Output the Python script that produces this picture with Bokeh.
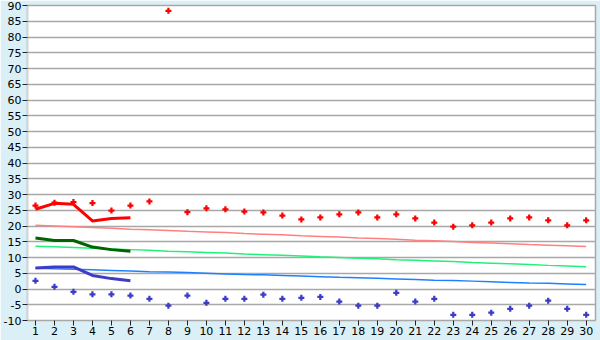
from bokeh.plotting import figure
from bokeh.models import FixedTicker, Range1d
from bokeh.embed import file_html
from bokeh.resources import INLINE

days = list(range(1, 31))

max_temp = [26.5, 27.4, 27.6, 27.3, 24.9, 26.5, 27.8, 88.3, 24.4, 25.6,
            25.3, 24.6, 24.3, 23.3, 22.1, 22.7, 23.7, 24.3, 22.7, 23.7,
            22.4, 21.1, 19.8, 20.2, 21.1, 22.4, 22.7, 21.8, 20.2, 21.8]
min_temp = [2.6, 0.7, -0.9, -1.7, -1.7, -2.1, -3.1, -5.3, -2.1, -4.4,
            -3.1, -3.1, -1.8, -3.1, -2.8, -2.5, -4.0, -5.3, -5.3, -1.2,
            -4.0, -3.1, -8.2, -8.2, -7.5, -6.3, -5.3, -3.7, -6.3, -8.2]

normal_max = [20.2, 20.0, 19.8, 19.5, 19.3, 19.0, 18.8, 18.6, 18.3, 18.1,
              17.9, 17.6, 17.4, 17.2, 16.9, 16.7, 16.5, 16.2, 16.0, 15.8,
              15.5, 15.3, 15.1, 14.8, 14.6, 14.4, 14.1, 13.9, 13.7, 13.5]
normal_mean = [13.6, 13.4, 13.2, 12.9, 12.7, 12.5, 12.3, 12.0, 11.8, 11.6,
               11.4, 11.1, 10.9, 10.7, 10.5, 10.2, 10.0, 9.8, 9.6, 9.3,
               9.1, 8.9, 8.7, 8.4, 8.2, 8.0, 7.8, 7.5, 7.3, 7.1]
normal_min = [6.6, 6.4, 6.3, 6.1, 5.9, 5.7, 5.5, 5.4, 5.2, 5.0,
              4.8, 4.6, 4.5, 4.3, 4.1, 3.9, 3.7, 3.6, 3.4, 3.2,
              3.0, 2.8, 2.7, 2.5, 2.3, 2.1, 1.9, 1.8, 1.6, 1.4]

fc_days = [1, 2, 3, 4, 5, 6]
fc_max = [25.3, 27.2, 26.9, 21.6, 22.4, 22.6]
fc_mean = [16.2, 15.4, 15.4, 13.3, 12.5, 12.0]
fc_min = [6.7, 7.0, 7.0, 4.3, 3.3, 2.6]

y_ticks = list(range(-10, 95, 5))
y_labels = {t: str(t) for t in y_ticks}

bg = "#daeff6"
p = figure(width=600, height=340, output_backend="svg", toolbar_location=None,
           x_range=Range1d(0.58, 30.49), y_range=Range1d(-10, 90),
           min_border_left=27, min_border_right=5, min_border_top=5, min_border_bottom=20)
p.background_fill_color = "white"
p.border_fill_color = bg
p.outline_line_color = "#a8a8a8"
p.outline_line_width = 1.5

p.xgrid.visible = False
p.ygrid.ticker = FixedTicker(ticks=y_ticks)
p.ygrid.grid_line_color = "#a8a8a8"
p.ygrid.grid_line_width = 1.5

for ax in (p.xaxis[0], p.yaxis[0]):
    ax.major_label_text_font = "DejaVu Sans"
    ax.major_label_text_font_size = "11px"
    ax.major_label_text_color = "black"
    ax.minor_tick_line_color = None
    ax.major_tick_in = 0
    ax.major_tick_out = 5
    ax.major_tick_line_color = "#222222"
    ax.major_label_standoff = 1
    ax.axis_line_color = "#c8d8dd"

p.xaxis.ticker = FixedTicker(ticks=days)
p.yaxis.ticker = FixedTicker(ticks=y_ticks)
p.yaxis.major_label_overrides = y_labels
p.xaxis.axis_line_color = None

p.line(days, normal_max, line_color="#ff8080", line_width=1.5)
p.line(days, normal_mean, line_color="#22f07a", line_width=1.5)
p.line(days, normal_min, line_color="#1f80ff", line_width=1.5)

p.line(fc_days, fc_max, line_color="#ff0000", line_width=3)
p.line(fc_days, fc_mean, line_color="#006400", line_width=3)
p.line(fc_days, fc_min, line_color="#3c3cc8", line_width=3)

p.scatter(days, max_temp, marker="plus", size=6, fill_color="#ff0000", line_color=None)
p.scatter(days, min_temp, marker="plus", size=6, fill_color="#3c3cc8", line_color=None)

open("out.html", "w").write(file_html(p, INLINE))
